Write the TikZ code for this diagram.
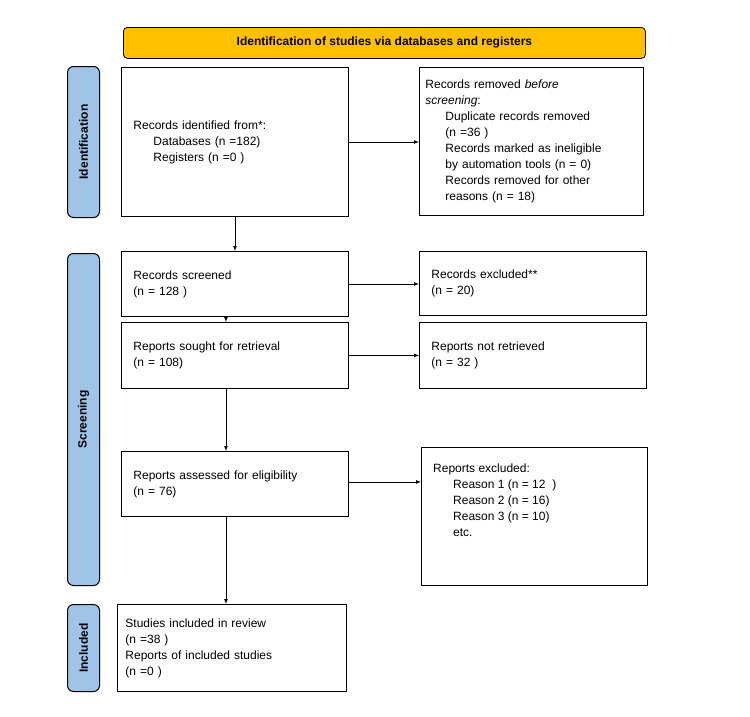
\documentclass[tikz,border=0pt]{standalone}
\usepackage{fontspec}
\setmainfont{Liberation Sans}
\usetikzlibrary{shapes.geometric, arrows, positioning}

\definecolor{bannerorange}{HTML}{FFC000}
\definecolor{phaseblue}{HTML}{A0C4E8}

\tikzset{
  box/.style={draw, line width=0.9pt, fill=white, align=left, anchor=north west,
    inner sep=0pt, font=\fontsize{12}{16}\selectfont},
  phase/.style={draw, line width=1pt, fill=phaseblue, rounded corners=6pt,
    anchor=north west, inner sep=0pt},
  flow/.style={-latex, line width=0.7pt}
}

\begin{document}
\begin{tikzpicture}[x=1pt, y=-1pt]
\useasboundingbox (0,0) rectangle (750,716);

% Banner
\node[draw, line width=0.8pt, fill=bannerorange, rounded corners=4pt, anchor=north west,
  minimum width=522pt, minimum height=31pt, font=\bfseries\fontsize{12}{14}\selectfont]
  (banner) at (123,27) {Identification of studies via databases and registers};

% Phase labels
\node[phase, minimum width=32pt, minimum height=151pt] (phaseid) at (67,66) {};
\node[rotate=90, font=\bfseries\fontsize{12}{14}\selectfont] at (phaseid.center) {Identification};
\node[phase, minimum width=32pt, minimum height=332pt] (phasescr) at (67,253) {};
\node[rotate=90, font=\bfseries\fontsize{12}{14}\selectfont] at (phasescr.center) {Screening};
\node[phase, minimum width=32pt, minimum height=87pt] (phaseinc) at (67,604) {};
\node[rotate=90, font=\bfseries\fontsize{12}{14}\selectfont] at (phaseinc.center) {Included};

% Left column
\node[box, minimum width=227pt, minimum height=149pt, text width=203pt, inner xsep=12pt]
  (identified) at (121,67) {Records identified from*:\\
  \hspace*{20pt}Databases (n =182)\\
  \hspace*{20pt}Registers (n =0 )};
\node[box, minimum width=227pt, minimum height=65pt, text width=203pt, inner xsep=12pt]
  (screened) at (121,251) {Records screened\\(n = 128 )};
\node[box, minimum width=227pt, minimum height=66pt, text width=203pt, inner xsep=12pt]
  (sought) at (121,322) {Reports sought for retrieval\\(n = 108)};
\node[box, minimum width=227pt, minimum height=65pt, text width=203pt, inner xsep=12pt]
  (assessed) at (121,451) {Reports assessed for eligibility\\(n = 76)};
\node[box, minimum width=229pt, minimum height=87pt, text width=213pt, inner xsep=8pt]
  (included) at (117,604) {Studies included in review\\(n =38 )\\
  Reports of included studies\\(n =0 )};

% Right column
\node[box, minimum width=224pt, minimum height=148pt, text width=212pt, inner xsep=6pt]
  (removed) at (419,67) {Records removed \emph{before}\\\emph{screening}:\\
  \hspace*{20pt}Duplicate records removed\\
  \hspace*{20pt}(n =36 )\\
  \hspace*{20pt}Records marked as ineligible\\
  \hspace*{20pt}by automation tools (n = 0)\\
  \hspace*{20pt}Records removed for other\\
  \hspace*{20pt}reasons (n = 18)};
\node[box, minimum width=227pt, minimum height=64pt, text width=203pt, inner xsep=12pt]
  (excluded) at (419,251) {Records excluded**\\(n = 20)};
\node[box, minimum width=227pt, minimum height=66pt, text width=203pt, inner xsep=12pt]
  (notretrieved) at (419,322) {Reports not retrieved\\(n = 32 )};
\node[box, minimum width=226pt, minimum height=138pt] (reasons) at (421,447) {};
\node[anchor=north west, align=left, inner sep=0pt, font=\fontsize{12}{16}\selectfont]
  at (433,464) {Reports excluded:\\
  \hspace*{20pt}Reason 1 (n = 12~ )\\
  \hspace*{20pt}Reason 2 (n = 16)\\
  \hspace*{20pt}Reason 3 (n = 10)\\
  \hspace*{20pt}etc.};

% Connectors
\draw[flow] (identified.south) -- (identified.south |- screened.north);
\draw[flow] ([xshift=-9pt]screened.south) -- ([xshift=-9pt]sought.north);
\draw[flow] ([xshift=-9pt]sought.south) -- ([xshift=-9pt]assessed.north);
\draw[flow] ([xshift=-9pt]assessed.south) -- ([xshift=-9pt]assessed.south |- included.north);
\draw[flow] (identified.east) -- (identified.east -| removed.west);
\draw[flow] (screened.east) -- (screened.east -| excluded.west);
\draw[flow] (sought.east) -- (sought.east -| notretrieved.west);
\draw[flow] ([yshift=2pt]assessed.east) -- ([yshift=2pt]assessed.east -| reasons.west);
\end{tikzpicture}
\end{document}
